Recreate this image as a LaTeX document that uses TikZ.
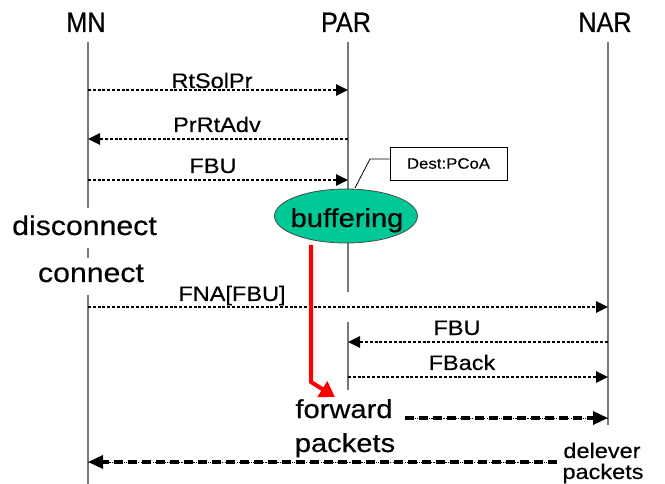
\documentclass[tikz,border=0pt]{standalone}
\usepackage{fontspec}
\setmainfont{Liberation Sans}
\newfontfamily\widefont{Liberation Sans}[FakeStretch=1.12,FakeBold=0.4]
\newfontfamily\tallfont{Liberation Sans}[FakeStretch=0.9,FakeBold=0.4]
\usetikzlibrary{arrows.meta,shapes.geometric}
\definecolor{lifegray}{RGB}{120,120,120}
\definecolor{buffgreen}{RGB}{0,200,150}
\begin{document}
\begin{tikzpicture}[x=1pt,y=-1pt,
  life/.style={draw=lifegray,line width=1.3pt},
  msg/.style={line width=2.6pt,dash pattern=on 3pt off 1.8pt,
    -{Triangle[length=12pt,width=11pt]}},
  pkt/.style={line width=3.4pt,dash pattern=on 9pt off 5pt,
    -{Triangle[length=15pt,width=13pt]},
    preaction={draw,arrows=-,line width=0.8pt,dash pattern=on 1.2pt off 1.2pt}},
  hdr/.style={font=\tallfont\fontsize{28}{28}\selectfont,anchor=base,inner sep=0pt},
  lbl/.style={font=\widefont\fontsize{21}{21}\selectfont,anchor=base,inner sep=0pt},
  big/.style={font=\widefont\fontsize{27}{27}\selectfont,anchor=base,inner sep=0pt},
  mid/.style={font=\widefont\fontsize{26}{26}\selectfont,anchor=base,inner sep=0pt},
  small/.style={font=\widefont\fontsize{21}{21}\selectfont,anchor=base,inner sep=0pt},
  note/.style={draw=black,line width=0.8pt,minimum width=117pt,minimum height=33pt,
    font=\widefont\fontsize{15}{15}\selectfont,inner sep=0pt}
]
\useasboundingbox (0,0) rectangle (665,484);

% headers
\node[hdr] (MN) at (86,32) {MN};
\node[hdr] (PAR) at (346,32) {PAR};
\node[hdr] (NAR) at (605,32) {NAR};

% lifeline points
\coordinate (mn0) at (88,42);  \coordinate (mn1) at (88,208);
\coordinate (mn2) at (88,248); \coordinate (mn3) at (88,258);
\coordinate (mn4) at (88,295); \coordinate (mn5) at (88,484);
\coordinate (par0) at (348,42);  \coordinate (par1) at (348,292);
\coordinate (par2) at (348,322); \coordinate (par3) at (348,390);
\coordinate (nar0) at (608,42);  \coordinate (nar1) at (608,425);

\draw[life] (mn0) -- (mn1);
\draw[life] (mn2) -- (mn3);
\draw[life] (mn4) -- (mn5);
\draw[life] (par0) -- (par1);
\draw[life] (par2) -- (par3);
\draw[life] (nar0) -- (nar1);

% messages
\coordinate (a1) at (88,90);   \coordinate (b1) at (348,90);
\coordinate (a2) at (348,139); \coordinate (b2) at (88,139);
\coordinate (a3) at (88,180);  \coordinate (b3) at (348,180);
\coordinate (a4) at (88,307);  \coordinate (b4) at (608,307);
\coordinate (a5) at (608,342); \coordinate (b5) at (348,342);
\coordinate (a6) at (348,377); \coordinate (b6) at (608,377);
\draw[msg] (a1) -- (b1);
\draw[msg] (a2) -- (b2);
\draw[msg] (a3) -- (b3);
\draw[msg] (a4) -- (b4);
\draw[msg] (a5) -- (b5);
\draw[msg] (a6) -- (b6);
\node[lbl] (l1) at (212,88) {RtSolPr};
\node[lbl] (l2) at (217,132) {PrRtAdv};
\node[lbl] (l3) at (213,173) {FBU};
\node[lbl] (l4) at (232,301) {FNA[FBU]};
\node[lbl] (l5) at (457,335) {FBU};
\node[lbl] (l6) at (462,370) {FBack};

% note
\node[note] (dest) at (448.5,163.5) {Dest:PCoA};
\coordinate (k1) at (370,159);
\coordinate (k2) at (355,188);
\draw[line width=0.8pt] (dest.west |- k1) -- (k1) -- (k2);

% buffering
\node[ellipse,draw=black!70,line width=0.8pt,fill=buffgreen,minimum width=143pt,
  minimum height=54pt,inner sep=0pt] (buf) at (346,216) {};
\node[mid] (buft) at (347,227) {buffering};

% disconnect / connect
\node[big] (disc) at (84.5,235) {disconnect};
\node[big] (conn) at (91,282) {connect};

% red arrow
\coordinate (r0) at (311,245);
\coordinate (r1) at (311,382);
\coordinate (r2) at (335,397);
\draw[red,line width=4pt,-{Triangle[length=15pt,width=18pt]}] (r0) -- (r1) -- (r2);

% forward packets
\node[mid] (fw) at (344,418) {forward};
\node[mid] (pk) at (345,452) {packets};

\coordinate (f0) at (405,418); \coordinate (f1) at (608,418);
\draw[pkt] (f0) -- (f1);
\coordinate (g0) at (557,462); \coordinate (g1) at (88,462);
\draw[pkt] (g0) -- (g1);

\node[small] (dl) at (602,458) {delever};
\node[small] (dp) at (603,479) {packets};
\end{tikzpicture}
\end{document}
